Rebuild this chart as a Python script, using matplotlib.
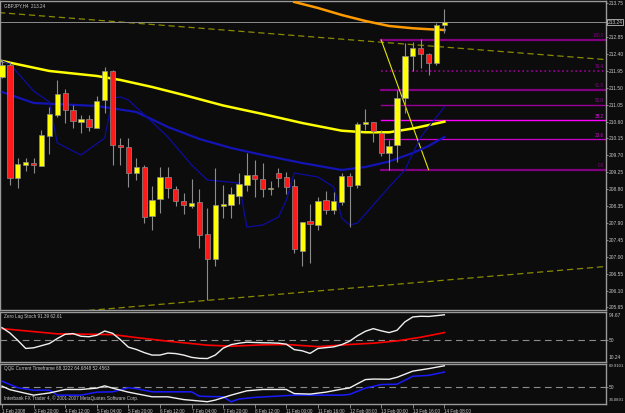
import numpy as np
import matplotlib.pyplot as plt
from matplotlib.patches import Rectangle

# 4h candles, bar index 0..56
opens = [211.793, 212.104, 209.096, 209.442, 209.487, 209.423, 210.214, 210.773, 211.351, 210.898,
         210.595, 210.659, 210.435, 211.173, 211.945, 209.975, 209.913, 209.221, 209.397, 208.092,
         208.529, 209.131, 208.811, 208.492, 208.351, 208.449, 207.597, 206.931, 208.351, 208.377,
         208.617, 208.910, 209.176, 209.061, 208.795, 209.221, 209.115, 208.883, 207.160, 207.951,
         207.845, 208.510, 208.244, 208.465, 209.157, 208.910, 210.526, 210.595, 210.302, 209.770,
         209.975, 211.234, 212.352, 212.549, 212.397, 212.150, 213.169]
highs = [212.238, 212.184, 209.628, 209.628, 209.628, 210.374, 210.994, 211.705, 211.458, 211.040,
         210.773, 210.773, 211.279, 212.059, 211.971, 210.153, 210.169, 209.620, 209.442, 208.883,
         209.397, 209.397, 208.883, 208.689, 209.061, 208.795, 208.289, 209.354, 208.910, 208.864,
         209.237, 209.770, 209.575, 209.503, 209.024, 209.354, 209.264, 209.061, 207.933, 208.404,
         208.598, 208.750, 208.731, 209.237, 209.237, 210.595, 210.925, 210.595, 210.374, 210.108,
         211.439, 212.698, 212.709, 212.789, 212.432, 213.231, 213.587]
lows = [211.750, 208.910, 208.830, 209.290, 209.237, 209.415, 209.735, 210.728, 210.568, 210.419,
        210.302, 210.347, 210.419, 210.819, 209.442, 209.442, 208.864, 209.043, 207.890, 207.712,
        208.156, 208.556, 208.351, 208.130, 208.289, 207.224, 205.848, 206.753, 208.023, 208.023,
        208.404, 208.758, 208.598, 208.598, 208.643, 208.864, 208.670, 207.107, 206.753, 206.825,
        207.712, 208.138, 208.138, 208.377, 207.783, 208.822, 210.374, 210.046, 209.682, 209.309,
        209.530, 210.819, 211.945, 212.017, 211.838, 212.104, 212.948]
closes = [212.104, 209.104, 209.469, 209.530, 209.450, 210.233, 210.808, 211.340, 210.906, 210.614,
          210.659, 210.446, 211.146, 211.945, 209.975, 209.929, 209.221, 209.397, 208.066, 208.510,
          209.131, 208.838, 208.492, 208.377, 208.438, 207.578, 206.931, 208.377, 208.404, 208.670,
          208.936, 209.176, 209.061, 208.795, 208.822, 209.088, 208.864, 207.198, 207.933, 207.879,
          208.492, 208.244, 208.492, 209.157, 208.883, 210.526, 210.595, 210.355, 209.754, 209.956,
          211.234, 212.352, 212.549, 212.389, 212.150, 213.169, 213.241]

# moving averages (bar index, price)
ma_yellow_bars = [0, 6, 12, 15, 19, 23, 28, 33, 38, 43, 46, 49, 52, 56]
ma_yellow = [212.211, 211.945, 211.812, 211.705, 211.519, 211.306, 211.026, 210.800, 210.560,
             210.355, 210.313, 210.313, 210.414, 210.595]
ma_orange_bars = [37, 40, 43, 46, 49, 52, 55, 56]
ma_orange = [213.782, 213.622, 213.436, 213.276, 213.143, 213.082, 213.045, 213.036]
ma_blue_bars = [0, 4, 12, 17, 21, 25, 29, 33, 38, 43, 46, 49, 52, 54, 56]
ma_blue = [211.386, 211.093, 211.013, 210.853, 210.454, 210.134, 209.895, 209.708, 209.495,
           209.309, 209.389, 209.535, 209.762, 209.948, 210.188]
band_bars = [0, 1, 4, 6, 7, 10, 13, 14, 15, 16, 19, 21, 24, 26, 30, 31, 33, 35, 36, 37, 40, 42,
             43, 44, 45, 47, 49, 51, 53, 56]
band = [212.211, 212.131, 211.412, 211.119, 210.028, 209.708, 210.161, 211.226, 211.253, 211.173,
        210.587, 210.188, 209.442, 209.043, 208.963, 207.791, 207.845, 208.058, 208.510, 209.229,
        209.123, 208.856, 208.031, 207.845, 207.898, 208.377, 208.856, 209.309, 210.188, 210.986]

# trend lines and fibonacci
trend_hi = ([0, 56], [213.493, 212.581])
trend_lo = ([25, 50], [205.821, 206.268])
fib_start, fib_end = (48, 212.770), (54, 209.317)
fib_levels = [0.0, 23.6, 38.2, 50.0, 61.8, 76.4, 100.0]
bid = 213.241

# zero lag stochastic
stoch_bars = list(range(57))
stoch_main = [70.6, 62.0, 50.0, 37.0, 38.0, 41.5, 45.0, 53.0, 59.9, 61.0, 56.7, 55.9, 58.3, 65.2,
              61.5, 51.0, 39.1, 35.4, 30.3, 26.3, 26.3, 29.5, 28.7, 26.3, 22.6, 21.0, 20.7, 26.3,
              37.5, 43.1, 45.5, 47.1, 46.6, 46.2, 46.0, 45.5, 43.9, 35.1, 33.2, 29.0, 37.0, 38.3,
              39.6, 43.1, 48.7, 57.5, 64.7, 69.0, 65.5, 62.6, 66.3, 79.9, 87.9, 89.0, 88.7, 90.0, 91.4]
signal_bars = [0, 7, 14, 17, 21, 26, 29, 33, 36, 40, 44, 47, 50, 53, 56]
stoch_signal = [69.0, 60.6, 59.4, 54.6, 48.7, 42.3, 40.7, 42.8, 43.4, 39.9, 43.4, 45.5, 49.2, 55.1, 62.6]

# QQE
qqe_bars = [0, 1, 4, 6, 8, 10, 12, 13, 14, 16, 19, 21, 23, 26, 27, 29, 31, 33, 36, 37, 39, 41,
            43, 44, 46, 47, 49, 50, 52, 54, 56]
qqe_rsi = [50.7, 47.3, 42.0, 44.1, 47.5, 47.5, 48.8, 51.0, 48.8, 44.9, 40.4, 40.4, 37.7, 35.6,
           37.2, 42.0, 46.2, 47.5, 47.5, 43.5, 43.0, 44.9, 47.8, 49.0, 57.1, 57.6, 57.4, 59.3,
           65.3, 67.7, 70.5]
trail_bars = [0, 2, 4, 6, 7, 10, 12, 14, 16, 17, 19, 24, 25, 28, 29, 30, 32, 37, 43, 44, 46, 48,
              50, 51, 52, 54, 56]
qqe_trail = [55.5, 49.2, 46.8, 46.8, 42.0, 42.0, 44.9, 45.2, 49.2, 48.3, 45.2, 45.2, 40.9, 40.4,
             35.6, 38.2, 39.8, 42.0, 42.0, 42.7, 48.8, 52.3, 52.6, 56.4, 60.3, 61.2, 64.4]

price_ticks = [213.75, 212.85, 212.40, 211.95, 211.50, 211.05, 210.60, 210.15, 209.70, 209.25,
               208.80, 208.35, 207.90, 207.45, 207.00, 206.55, 206.10, 205.65]
time_bars = [0, 4, 8, 12, 16, 20, 24, 28, 32, 36, 40, 44, 48, 52, 56]
time_labels = ['1 Feb 2008', '3 Feb 20:00', '4 Feb 12:00', '5 Feb 04:00', '5 Feb 20:00',
               '6 Feb 12:00', '7 Feb 04:00', '7 Feb 20:00', '8 Feb 12:00', '11 Feb 00:00',
               '11 Feb 16:00', '12 Feb 08:00', '13 Feb 00:00', '13 Feb 16:00', '14 Feb 08:00']

plt.rcParams['font.family'] = ['Liberation Sans', 'DejaVu Sans']
BG = '#0c0c0c'
FG = '#c8c8c8'
EDGE = '#9a9a9a'
FS = 3.5      # right scale labels
FS_X = 3.3    # time labels
FS_T = 3.3    # pane captions

W, H = 625, 413
fig = plt.figure(figsize=(W / 100, H / 100), dpi=100, facecolor=BG)


def pane(top, bottom):
    ax = fig.add_axes([0, 1 - bottom / H, 606 / W, (bottom - top) / H], facecolor=BG)
    ax.set_xlim(-0.253, 76.46)
    for s in ax.spines.values():
        s.set_color(EDGE)
        s.set_linewidth(1.0)
    ax.yaxis.tick_right()
    ax.tick_params(axis='y', colors=EDGE, labelcolor=FG, labelsize=FS, length=1.5, width=0.6, pad=0.3)
    ax.tick_params(axis='x', bottom=False, labelbottom=False)
    return ax


ax = pane(1, 310)
ax.set_ylim(205.582, 213.808)

# trend lines (rays across the chart)
for xs, ys in (trend_hi, trend_lo):
    k = (ys[1] - ys[0]) / (xs[1] - xs[0])
    xx = np.array([-1, 77])
    ax.plot(xx, ys[0] + k * (xx - xs[0]), color='#8a8a00', lw=0.9, dashes=(5, 3), zorder=1)

ax.axhline(bid, color='#8c8c8c', lw=0.7, zorder=1)

# fibonacci
fib_style = {0.0: ('#800080', 1.6, '-'), 23.6: ('#cc00cc', 0.9, '-'), 38.2: ('#ff00ff', 1.0, '-'),
             50.0: ('#9a009a', 1.0, '-'), 61.8: ('#800080', 1.6, '-'), 76.4: ('#9a009a', 1.2, ':'),
             100.0: ('#800080', 1.6, '-')}
lo_p, hi_p = fib_end[1], fib_start[1]
for lvl in fib_levels:
    p = lo_p + (hi_p - lo_p) * lvl / 100
    c, lw, ls = fib_style[lvl]
    ax.plot([fib_start[0], 77], [p, p], color=c, lw=lw, ls=ls, zorder=2)
    ax.text(76.2, p + 0.04, f'{lvl:.1f}', color=c, fontsize=FS_T, ha='right', va='bottom', zorder=6)
ax.plot([fib_start[0], fib_end[0]], [fib_start[1], fib_end[1]], color='#e6e600', lw=0.8, zorder=2)

# moving averages
ax.plot(ma_orange_bars, ma_orange, color='#ff9a00', lw=1.8, zorder=3)
ax.plot(ma_yellow_bars, ma_yellow, color='#ffff00', lw=1.8, zorder=3)
ax.plot(ma_blue_bars, ma_blue, color='#1414b4', lw=1.6, zorder=3)
ax.plot(band_bars, band, color='#0c0ca0', lw=0.9, zorder=3)

# candles
bw = 0.67
for i, (o, h, l, c) in enumerate(zip(opens, highs, lows, closes)):
    ax.vlines(i, l, h, color='#8c8c8c', lw=0.8, zorder=4)
    bottom, top = min(o, c), max(o, c)
    hgt = max(top - bottom, 0.03)
    col = '#ffff00' if c >= o else '#ff1a1a'
    ax.add_patch(Rectangle((i - bw / 2, bottom), bw, hgt, facecolor=col, edgecolor='#8c8c8c',
                           lw=0.5, zorder=5))

ax.set_yticks(price_ticks)
ax.set_yticklabels([f'{t:.2f}' for t in price_ticks])
ax.text(1.003, bid, f'{bid:.2f}', transform=ax.get_yaxis_transform(), color=FG, fontsize=FS,
        va='center', ha='left', clip_on=False,
        bbox=dict(boxstyle='square,pad=0.12', fc=BG, ec='#bdbdbd', lw=0.6))
ax.text(0.006, 0.993, 'GBPJPY,H4  213.24', transform=ax.transAxes, color=FG, fontsize=FS_T,
        va='top', ha='left')

# stochastic pane
ax2 = pane(311.5, 362)
ax2.set_ylim(15.1, 96.7)
ax2.axhline(50, color='#8c8c8c', lw=0.8, dashes=(6, 4))
ax2.plot(signal_bars, stoch_signal, color='#ff0000', lw=1.2)
ax2.plot(stoch_bars, stoch_main, color='#f0f0f0', lw=1.0)
ax2.set_yticks([50])
ax2.set_yticklabels(['50'])
for frac, lab in ((0.93, '94.67'), (0.085, '10.24')):
    ax2.text(1.004, frac, lab, transform=ax2.transAxes, color=FG, fontsize=FS, va='center', ha='left')
ax2.text(0.006, 0.95, 'Zero Lag Stoch 91.39 62.61', transform=ax2.transAxes, color=FG, fontsize=FS_T,
         va='top', ha='left')

# QQE pane
ax3 = pane(363.5, 404)
ax3.set_ylim(33.4, 72.7)
ax3.axhline(50, color='#8c8c8c', lw=0.8, dashes=(6, 4))
ax3.plot(trail_bars, qqe_trail, color='#1a1aff', lw=1.1)
ax3.plot(qqe_bars, qqe_rsi, color='#f0f0f0', lw=1.0)
ax3.set_yticks([50])
ax3.set_yticklabels(['50'])
for frac, lab in ((0.93, '69.9101'), (0.09, '34.0891')):
    ax3.text(1.004, frac, lab, transform=ax3.transAxes, color=FG, fontsize=FS - 0.4, va='center',
             ha='left')
ax3.text(0.006, 0.94, 'QQE Current Timeframe 68.3222 64.6848 52.4563', transform=ax3.transAxes,
         color=FG, fontsize=FS_T, va='top', ha='left')
ax3.text(0.006, 0.07, 'Interbank FX Trader 4, \u00a9 2001-2007 MetaQuotes Software Corp.',
         transform=ax3.transAxes, color=FG, fontsize=FS_T, va='bottom', ha='left')

ax3.tick_params(axis='x', bottom=True, labelbottom=True, colors=EDGE, labelcolor=FG,
                labelsize=FS_X, length=3, width=0.6, pad=0.8)
ax3.set_xticks(time_bars)
ax3.set_xticklabels(time_labels, ha='left')

fig.savefig('out.png', dpi=100, facecolor=BG)
